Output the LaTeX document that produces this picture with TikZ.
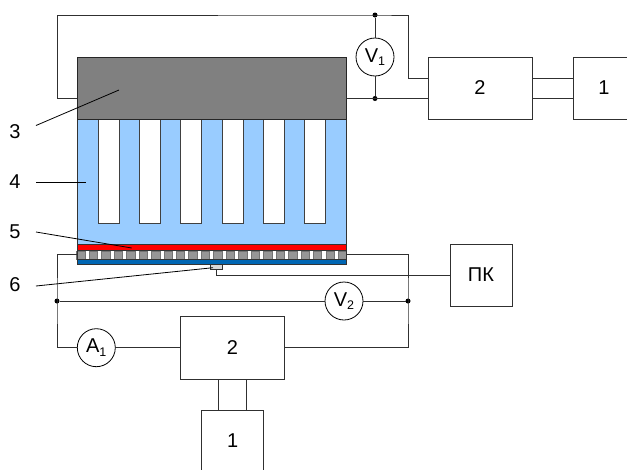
\documentclass[tikz,border=0pt]{standalone}
\usepackage{fontspec}
\setmainfont{Liberation Sans}
\newcommand{\meterlab}[2]{#1\raisebox{-0.35ex}{\fontsize{12.5}{13}\selectfont #2}}
\definecolor{wirec}{HTML}{303030}
\definecolor{electrodec}{HTML}{808080}
\definecolor{liquidc}{HTML}{99CCFF}
\definecolor{tilec}{HTML}{969696}
\definecolor{basec}{HTML}{0066B3}
\tikzset{
  wire/.style={draw=wirec,line width=0.9pt},
  leader/.style={draw=black,line width=0.8pt},
  blockbox/.style={draw=wirec,line width=0.9pt,fill=white,rectangle,inner sep=0pt,outer sep=0pt,font=\fontsize{20}{22}\selectfont},
  meter/.style={draw=black,line width=0.8pt,fill=white,circle,minimum size=38pt,inner sep=0pt,outer sep=0pt,font=\fontsize{20}{22}\selectfont},
  junction/.style={fill=black,circle,minimum size=5pt,inner sep=0pt,outer sep=0pt},
  numlabel/.style={inner sep=0pt,font=\fontsize{20}{22}\selectfont},
  layer/.style={draw=black!80,line width=0.9pt},
  slot/.style={draw=black!75,line width=0.8pt,fill=white},
  tile/.style={draw=black!55,line width=0.5pt,fill=tilec}
}
\begin{document}
\begin{tikzpicture}[x=1pt,y=-1pt]
\useasboundingbox (0,0) rectangle (627,469);
\clip (0,0) rectangle (627,469);
% cell body
\fill[liquidc] (77,119) rectangle (346,264.5);
\foreach \sx in {98,139.3,180.6,221.9,263.2,304.5}{
  \draw[slot] (\sx,119) -- (\sx,223) -- (\sx+21,223) -- (\sx+21,119);
}
\draw[layer,fill=red] (77,244) rectangle (346,250.5);
\fill[white] (77,250.5) rectangle (346,259);
\foreach \k in {0,...,21}{
  \draw[tile] ({76.6+12.46*\k},250.8) rectangle ({85+12.46*\k},258.8);
}
\draw[layer,fill=basec] (77,259) rectangle (346,264.5);
\draw[layer] (77,119) rectangle (346,264.5);
\node[draw=black!85,line width=0.9pt,fill=electrodec,rectangle,inner sep=0pt,outer sep=0pt,minimum width=269pt,minimum height=62pt] (electrode) at (211.5,88) {};
\node[draw=wirec,line width=0.7pt,fill=black!15,rectangle,inner sep=0pt,outer sep=0pt,minimum width=12.5pt,minimum height=4.5pt] (sensor) at (216.3,267) {};
% blocks
\node[blockbox,minimum width=104pt,minimum height=62pt] (psuA) at (480,88) {2};
\node[blockbox,minimum width=62pt,minimum height=62pt] (srcA) at (604,88) {1};
\node[blockbox,minimum width=104pt,minimum height=62.6pt] (psuB) at (232.5,348) {2};
\node[blockbox,minimum width=62pt,minimum height=62pt] (srcB) at (232.7,441) {1};
\node[blockbox,minimum width=62pt,minimum height=62pt] (pc) at (481,275) {ПК};
% meters
\node[meter] (vone) at (375,57) {\meterlab{V}{1}};
\node[meter] (vtwo) at (344,301) {\meterlab{V}{2}};
\node[meter] (aone) at (96.3,347.7) {\meterlab{A}{1}};
% junctions
\node[junction] (jt) at (375,15) {};
\node[junction] (jb) at (375,98.5) {};
\node[junction] (jl) at (57,301) {};
\node[junction] (jr) at (408,301) {};
% wire corners
\coordinate (elL) at (77,98.5);
\coordinate (elR) at (346,98.5);
\coordinate (tileL) at (77,254);
\coordinate (tileR) at (346,254);
% top circuit
\draw[wire] (elL) -- (57,98.5) -- (57,15) -- (jt.center) -- (408,15) -- (408,78) -- (428,78);
\draw[wire] (elR) -- (jb.center) -- (428,98.5);
\draw[wire] (jt) -- (vone);
\draw[wire] (vone) -- (jb);
\draw[wire] (532,78) -- (573,78);
\draw[wire] (532,98.5) -- (573,98.5);
% bottom circuit
\draw[wire] (tileL) -- (57,254) -- (jl.center) -- (57,347.7) -- (aone.west);
\draw[wire] (aone.east) -- (psuB.west |- aone.east);
\draw[wire] (tileR) -- (408,254) -- (jr.center) -- (408,347.7) -- (psuB.east |- 0,347.7);
\draw[wire] (jl) -- (vtwo);
\draw[wire] (vtwo) -- (jr);
\draw[wire] (sensor.south) -- (sensor.south |- pc.west) -- (pc.west);
\draw[wire] (218,379.3) -- (218,410);
\draw[wire] (246.7,379.3) -- (246.7,410);
% labels
\node[numlabel] (n3) at (15,132) {3};
\node[numlabel] (n4) at (15,182) {4};
\node[numlabel] (n5) at (15,232) {5};
\node[numlabel] (n6) at (15,285) {6};
\coordinate (t3) at (119,90);
\coordinate (t4) at (86,182);
\coordinate (t5) at (131.7,248);
\coordinate (t6) at (213,267.7);
\draw[leader] (36,125.5) -- (t3);
\draw[leader] (36,182) -- (t4);
\draw[leader] (36,232) -- (t5);
\draw[leader] (36,286) -- (t6);
\end{tikzpicture}
\end{document}
